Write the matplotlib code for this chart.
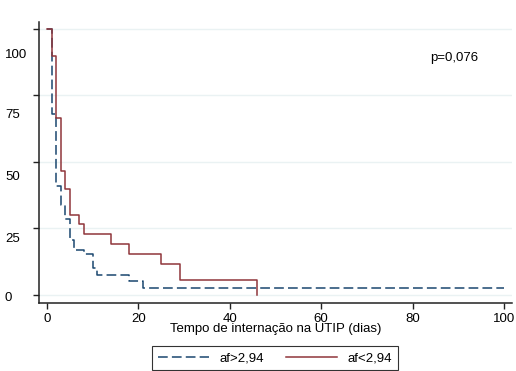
import matplotlib
matplotlib.use("Agg")
import matplotlib.pyplot as plt
from matplotlib.ticker import FixedLocator, NullFormatter, FixedFormatter

plt.rcParams['font.family'] = ['Liberation Sans', 'DejaVu Sans']
plt.rcParams['lines.scale_dashes'] = False

# Kaplan-Meier style step data (time in days, survival fraction)
t_high = [0, 1, 2, 3, 4, 5, 6, 8, 10, 11, 18, 21, 100]
s_high = [1.0, 0.68, 0.41, 0.338, 0.286, 0.207, 0.17, 0.155, 0.10, 0.075, 0.053, 0.026, 0.026]

t_low = [0, 1, 2, 3, 4, 5, 7, 8, 14, 18, 25, 29, 46, 46]
s_low = [1.0, 0.90, 0.665, 0.466, 0.40, 0.30, 0.267, 0.229, 0.19, 0.154, 0.116, 0.058, 0.058, 0.0]

label_high = "af>2,94"
label_low = "af<2,94"

x_ticks = [0, 20, 40, 60, 80, 100]
y_ticks = [0, 0.25, 0.5, 0.75, 1.0]
y_tick_labels = ['0', '25', '50', '75', '100']
y_label_pos = [-0.006, 0.218, 0.451, 0.684, 0.906]

p_text = "p=0,076"
x_title = "Tempo de internação na UTIP (dias)"

blue = '#1a476f'
red = '#90353b'

fig = plt.figure(figsize=(5.16, 3.71), dpi=100)
ax = fig.add_axes([39/516, 1-303/371, (512-39)/516, (303-22)/371])

ax.step(t_high, s_high, where='post', color=blue, lw=1.1, dashes=(7, 3), label=label_high)
ax.step(t_low, s_low, where='post', color=red, lw=1.1, label=label_low)

ax.set_xlim(-1.75, 101.75)
ax.set_ylim(-0.030, 1.026)

for sp in ['top', 'right']:
    ax.spines[sp].set_visible(False)
for sp in ['left', 'bottom']:
    ax.spines[sp].set_linewidth(1.1)
    ax.spines[sp].set_color('#222222')

ax.set_xticks(x_ticks)
ax.set_xticklabels([str(v) for v in x_ticks], fontsize=9.5)
ax.tick_params(axis='x', length=4, width=1, pad=3, color='#222222')

ax.yaxis.set_major_locator(FixedLocator(y_ticks))
ax.yaxis.set_major_formatter(NullFormatter())
ax.yaxis.set_minor_locator(FixedLocator(y_label_pos))
ax.yaxis.set_minor_formatter(FixedFormatter(y_tick_labels))
ax.tick_params(axis='y', which='major', length=4.5, width=1, color='#222222')
ax.tick_params(axis='y', which='minor', length=0, pad=24.5, labelsize=9.5)
for lab in ax.yaxis.get_minorticklabels():
    lab.set_horizontalalignment('left')

ax.grid(axis='y', which='major', color='#eaf2f3', lw=1)
ax.set_axisbelow(True)

ax.set_xlabel(x_title, fontsize=9.5, labelpad=-1)

ax.text(89.2, 0.89, p_text, fontsize=9.5, ha='center', va='center')

leg = fig.legend(loc='center', bbox_to_anchor=(275/516, 1-358/371), ncol=2,
                 fontsize=9.5, frameon=True, fancybox=False, edgecolor='black',
                 handlelength=3.9, handletextpad=0.76, columnspacing=1.67,
                 borderpad=0.45)
leg.get_frame().set_linewidth(0.8)

fig.savefig('out.png', dpi=100)
